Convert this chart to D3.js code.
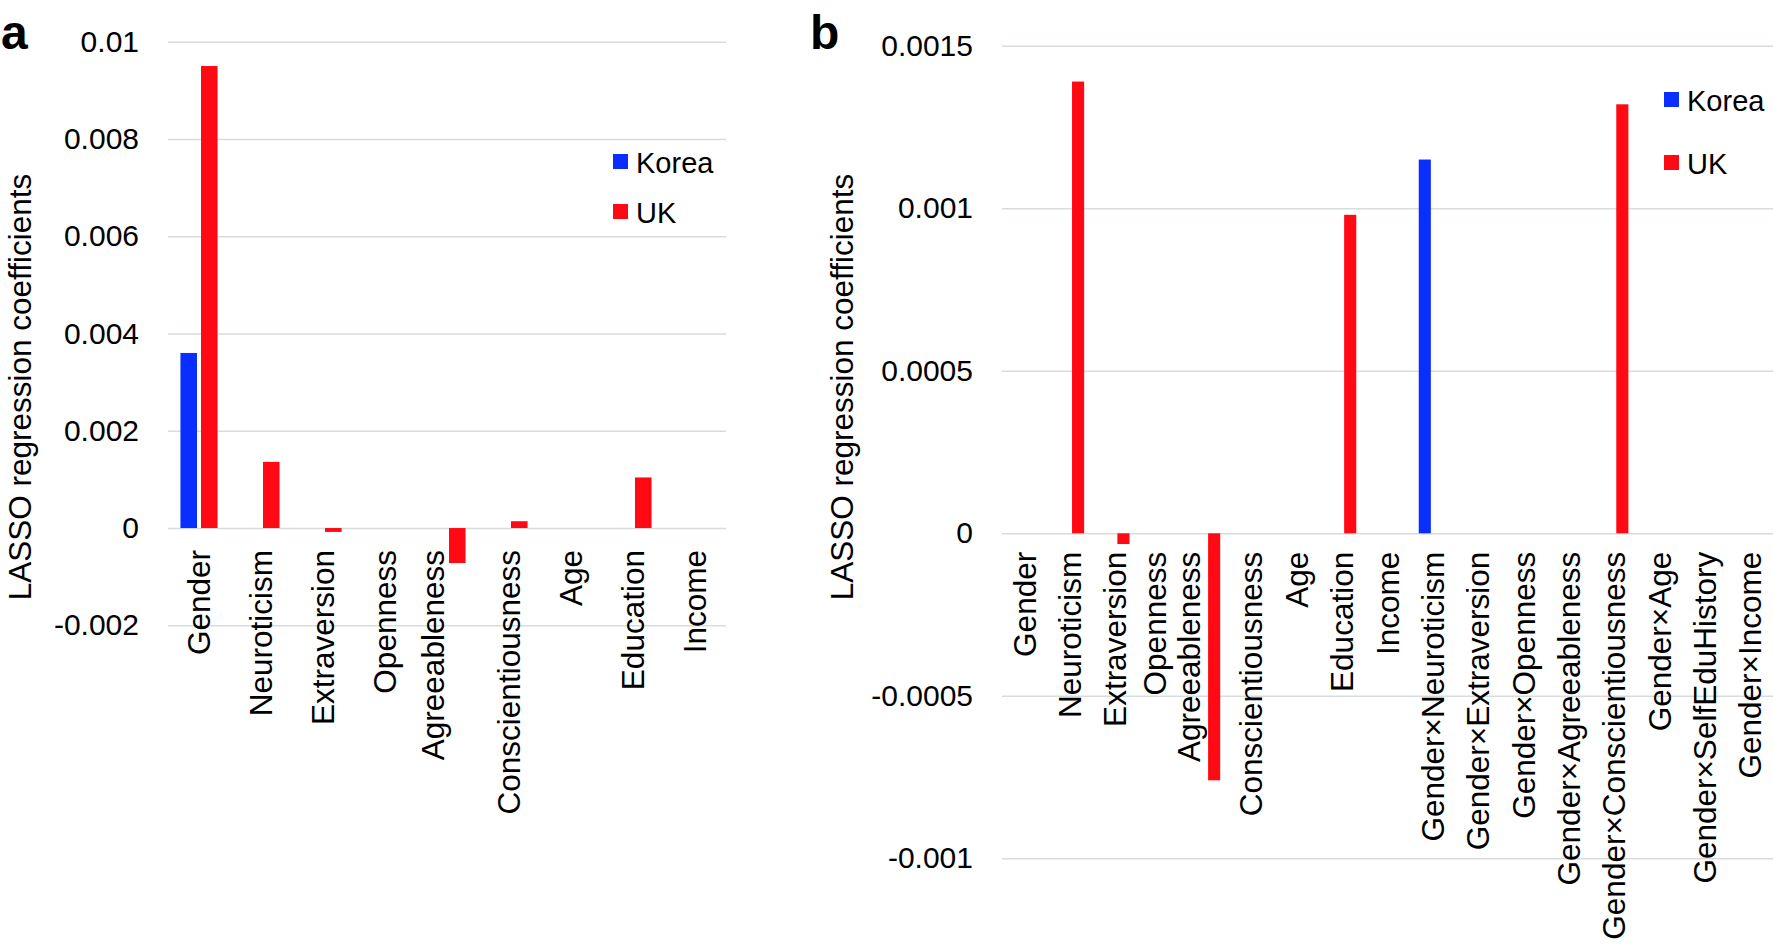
<!DOCTYPE html>
<html>
<head>
<meta charset="utf-8">
<script src="https://cdn.jsdelivr.net/npm/d3@7"></script>
<style>
    body { margin: 0; background: #fff; }
    svg { display: block; font-family: "Liberation Sans", Arial, sans-serif; }
    .grid line { stroke: #d6dddc; stroke-width: 1.5; }
</style>
</head>
<body>
<div id="chart"></div>
<script>
// values
var series = ["Korea", "UK"];
var colors = ["#0a2eff", "#ff0a14"];

var catsA = ["Gender", "Neuroticism", "Extraversion", "Openness", "Agreeableness",
    "Conscientiousness", "Age", "Education", "Income"];
var koreaA = [0.0036, 0, 0, 0, 0, 0, 0, 0, 0];
var ukA = [0.0095, 0.00136, -0.00008, 0, -0.00072, 0.00014, 0, 0.00104, 0];
var ticksA = [-0.002, 0, 0.002, 0.004, 0.006, 0.008, 0.01];

var catsB = ["Gender", "Neuroticism", "Extraversion", "Openness", "Agreeableness",
    "Conscientiousness", "Age", "Education", "Income", "Gender×Neuroticism",
    "Gender×Extraversion", "Gender×Openness", "Gender×Agreeableness",
    "Gender×Conscientiousness", "Gender×Age", "Gender×SelfEduHistory", "Gender×Income"];
var koreaB = [0, 0, 0, 0, 0, 0, 0, 0, 0, 0.00115, 0, 0, 0, 0, 0, 0, 0];
var ukB = [0, 0.00139, -0.000033, 0, -0.00076, 0, 0, 0.00098, 0, 0, 0, 0, 0, 0.00132, 0, 0, 0];
var ticksB = [-0.001, -0.0005, 0, 0.0005, 0.001, 0.0015];

var svg = d3.select("#chart")
    .append("svg")
    .attr("width", 1773)
    .attr("height", 945);

function drawPanel(p) {
    var g = svg.append("g");

    var x0 = d3.scaleBand()
        .domain(p.cats)
        .range([p.left, p.right]);

    var bw = x0.bandwidth();
    var barW = bw * 0.267;
    var x1 = d3.scaleBand()
        .domain(series)
        .range([bw / 2 - barW - p.gap / 2, bw / 2 + barW + p.gap / 2])
        .paddingInner(p.gap / (barW + p.gap));

    var y = d3.scaleLinear()
        .domain(d3.extent(p.ticks))
        .range([p.bottom, p.top]);

    // gridlines + tick labels
    var yAxis = d3.axisLeft(y)
        .tickValues(p.ticks)
        .tickFormat(v => String(v))
        .tickSize(-(p.right - p.left))
        .tickPadding(p.tickPad);

    g.append("g")
        .attr("class", "grid")
        .attr("transform", `translate(${p.left}, 0)`)
        .call(yAxis)
        .call(s => s.select(".domain").remove())
        .selectAll("text")
        .attr("fill", "#000")
        .style("font-size", "30px");

    // category labels next to the zero line (a few nudged aside from the bars)
    g.append("g")
        .attr("transform", `translate(0, ${y(0)})`)
        .call(d3.axisBottom(x0).tickSize(0).tickPadding(0))
        .call(s => s.select(".domain").remove())
        .selectAll("text")
        .attr("transform", d => `translate(${p.shift[d] || 0}, 0) rotate(-90)`)
        .attr("x", -p.labelGap)
        .attr("y", 0)
        .attr("dy", "0.35em")
        .attr("fill", "#000")
        .style("text-anchor", "end")
        .style("font-size", "31.5px");

    // bars
    var rows = p.cats.map((c, i) => ({ cat: c, vals: [p.korea[i], p.uk[i]] }));

    g.append("g")
        .selectAll("g")
        .data(rows)
        .enter()
        .append("g")
        .attr("transform", d => `translate(${x0(d.cat)}, 0)`)
        .selectAll("rect")
        .data(d => d.vals.map((v, j) => ({ s: series[j], v: v, c: colors[j] })))
        .enter()
        .append("rect")
        .attr("x", d => x1(d.s))
        .attr("width", x1.bandwidth())
        .attr("y", d => y(Math.max(0, d.v)))
        .attr("height", d => Math.abs(y(d.v) - y(0)))
        .attr("fill", d => d.c);

    // y axis title
    g.append("text")
        .attr("transform", `translate(${p.titleX}, 387) rotate(-90)`)
        .attr("text-anchor", "middle")
        .style("font-size", "31.5px")
        .text("LASSO regression coefficients");

    // panel letter
    g.append("text")
        .attr("x", p.letterX)
        .attr("y", 49)
        .style("font-size", "48px")
        .style("font-weight", "bold")
        .text(p.letter);

    // legend
    var leg = g.append("g")
        .selectAll("g")
        .data(series)
        .enter()
        .append("g")
        .attr("transform", (d, i) => `translate(${p.legX}, ${p.legY[i]})`);

    leg.append("rect")
        .attr("x", 0)
        .attr("y", -19)
        .attr("width", 15)
        .attr("height", 15)
        .attr("fill", (d, i) => colors[i]);

    leg.append("text")
        .attr("x", 23)
        .attr("y", 0)
        .style("font-size", "29px")
        .text(d => d);
}

drawPanel({
    cats: catsA, korea: koreaA, uk: ukA, ticks: ticksA,
    left: 168, right: 726, top: 41.7, bottom: 625.3,
    gap: 4, tickPad: 29, labelGap: 22,
    shift: { "Agreeableness": -14 },
    titleX: 31, letter: "a", letterX: 1,
    legX: 613, legY: [173, 223]
});

drawPanel({
    cats: catsB, korea: koreaB, uk: ukB, ticks: ticksB,
    left: 1002, right: 1773, top: 45.8, bottom: 858.3,
    gap: 4, tickPad: 29, labelGap: 18.5,
    shift: { "Openness": -6, "Agreeableness": -17 },
    titleX: 853, letter: "b", letterX: 810,
    legX: 1664, legY: [111, 174]
});
</script>
</body>
</html>
